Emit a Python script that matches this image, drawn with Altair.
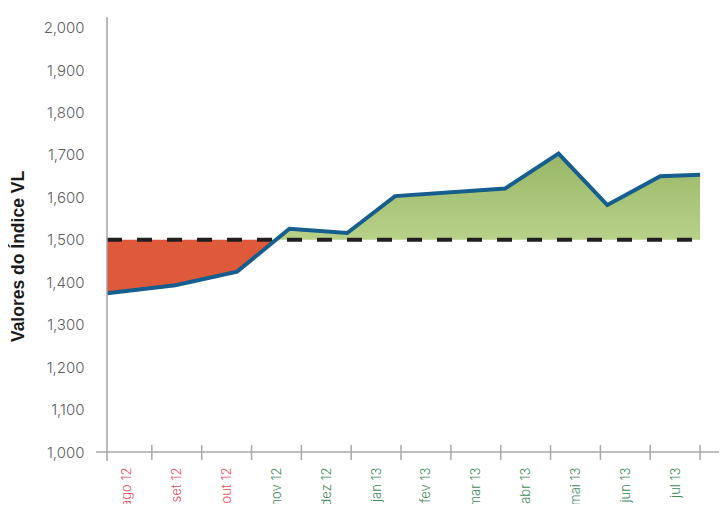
import altair as alt
import pandas as pd

months = ['ago 12', 'set 12', 'out 12', 'nov 12', 'dez 12', 'jan 13',
          'fev 13', 'mar 13', 'abr 13', 'mai 13', 'jun 13', 'jul 13']
point_pos = [0.1, 1.47, 2.71, 3.76, 4.92, 5.88, 8.09, 9.16, 10.14, 11.2, 12.0]
point_val = [1374, 1393, 1425, 1526, 1516, 1603, 1621, 1703, 1582, 1650, 1653]
reference = 1500
y_ticks = [1000, 1100, 1200, 1300, 1400, 1500, 1600, 1700, 1800, 1900, 2000]

W, H = 612, 435

# series with crossings of the reference inserted, for the two fills
rows = []
for i in range(len(point_pos)):
    if i > 0:
        x0, v0 = point_pos[i - 1], point_val[i - 1]
        x1, v1 = point_pos[i], point_val[i]
        if (v0 - reference) * (v1 - reference) < 0:
            t = (reference - v0) / (v1 - v0)
            rows.append({'x': x0 + t * (x1 - x0), 'v': reference})
    rows.append({'x': point_pos[i], 'v': point_val[i]})
fill = pd.DataFrame(rows)
fill['lo'] = fill['v'].clip(upper=reference)
fill['hi'] = fill['v'].clip(lower=reference)
fill['ref'] = reference

line_df = pd.DataFrame({'x': point_pos, 'v': point_val})

xscale = alt.Scale(domain=[0.1, 12.38], nice=False, zero=False)
yscale = alt.Scale(domain=[1000, 2025], nice=False, zero=False)

label_arr = "[" + ",".join("'%s'" % m for m in months) + "]"

xaxis = alt.Axis(values=[i + 0.5 for i in range(len(months))],
                 labelExpr=label_arr + "[floor(datum.value)]",
                 labelAngle=270, labelAlign='right',
                 labelBaseline='middle', labelPadding=15,
                 labelFont='Inter', labelFontWeight=300,
                 labelFontSize=13,
                 labelColor={'expr': "datum.value < 3 ? '#E4505F' : '#3C8C57'"},
                 domain=False, ticks=False, grid=False, title=None,
                 labelOverlap=False)
yaxis = alt.Axis(values=y_ticks, format=',d', domain=False,
                 ticks=False, grid=False, labelPadding=23,
                 labelFont='Inter', labelFontWeight=300,
                 labelFontSize=15, labelColor='#5E5E5E',
                 title='Valores do Índice VL', titleFont='Liberation Sans',
                 titleFontWeight='bold', titleFontSize=17.5,
                 titleColor='#1A1A1A', titleAngle=270,
                 titleX=-89, titleY=239, titleAlign='center',
                 titleBaseline='middle')

red = alt.Chart(fill).mark_area(color='#DF5A3B', opacity=1).encode(
    x=alt.X('x:Q', scale=xscale, axis=xaxis),
    y=alt.Y('lo:Q', scale=yscale, axis=yaxis),
    y2='ref:Q')

green = alt.Chart(fill).mark_area(
    color=alt.Gradient(gradient='linear',
                       stops=[alt.GradientStop(color='#98B766', offset=0),
                              alt.GradientStop(color='#B8D18A', offset=1)],
                       x1=1, x2=1, y1=0, y2=1),
    opacity=1).encode(
    x=alt.X('x:Q', scale=xscale, axis=xaxis),
    y=alt.Y('hi:Q', scale=yscale, axis=yaxis),
    y2='ref:Q')

ref_df = pd.DataFrame({'x': [0.1], 'x2': [12.0], 'v': [reference]})
dashed = alt.Chart(ref_df).mark_rule(color='#231F20', strokeWidth=4,
                                     strokeDash=[15, 15]).encode(
    x=alt.X('x:Q', scale=xscale, axis=xaxis), x2='x2:Q',
    y=alt.Y('v:Q', scale=yscale, axis=yaxis))

line = alt.Chart(line_df).mark_line(color='#165E8D', strokeWidth=4,
                                    strokeJoin='miter').encode(
    x=alt.X('x:Q', scale=xscale, axis=xaxis),
    y=alt.Y('v:Q', scale=yscale, axis=yaxis))

one = pd.DataFrame({'a': [0]})
xaxis_line = alt.Chart(one).mark_rule(color='#A8A8A8', strokeWidth=1.5).encode(
    x=alt.value(-11), x2=alt.value(W), y=alt.value(H))
yaxis_line = alt.Chart(one).mark_rule(color='#A8A0A0', strokeWidth=1.5).encode(
    x=alt.value(0), y=alt.value(0), y2=alt.value(H + 9))

tick_df = pd.DataFrame({'k': list(range(1, len(months) + 1))})
xticks = alt.Chart(tick_df).mark_rule(color='#A8A8A8', strokeWidth=1.5).encode(
    x=alt.X('k:Q', scale=xscale, axis=xaxis),
    y=alt.value(H - 7), y2=alt.value(H + 8))

chart = alt.layer(red, green, dashed, line, xaxis_line, yaxis_line, xticks).properties(
    width=W, height=H,
    autosize=alt.AutoSizeParams(type='none'),
    padding={'left': 99, 'top': 9, 'right': 0, 'bottom': 52}
).configure_view(stroke=None)

chart.save("out.html", embed_options={"renderer": "svg", "actions": False})
